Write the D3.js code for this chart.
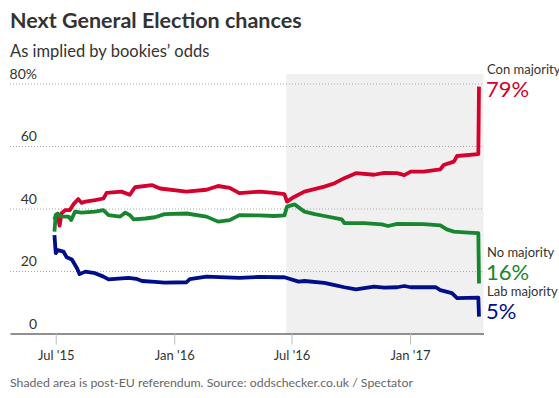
<!DOCTYPE html>
<html>
<head>
<meta charset="utf-8">
<script src="https://cdn.jsdelivr.net/npm/d3@7"></script>
<style>
  body { margin: 0; background: #fff; }
  svg { display: block; font-family: Lato, "Open Sans", sans-serif; }
</style>
</head>
<body>
<div class="graph"></div>
<script>
// readings taken off the chart, one array per series
const conDates = ['2015-06-29', '2015-07-01', '2015-07-04', '2015-07-07', '2015-07-10', '2015-07-16', '2015-07-23', '2015-07-29',
  '2015-08-05', '2015-08-10', '2015-08-16', '2015-08-31', '2015-09-13', '2015-09-18', '2015-10-11', '2015-10-24',
  '2015-11-01', '2015-11-27', '2015-12-10', '2016-01-20', '2016-02-20', '2016-03-09', '2016-03-27', '2016-04-11',
  '2016-05-12', '2016-06-04', '2016-06-20', '2016-06-24', '2016-07-05', '2016-07-21', '2016-08-21', '2016-09-06',
  '2016-09-21', '2016-10-09', '2016-11-06', '2016-11-22', '2016-12-12', '2016-12-23', '2017-01-02', '2017-01-22',
  '2017-02-17', '2017-02-22', '2017-03-10', '2017-03-15', '2017-04-17', '2017-04-18'];
const conValues = [36.5, 37.5, 38, 34.5, 38.5, 39.5, 39.5, 41.5,
  43, 41.8, 42.2, 42.7, 43.2, 45, 45.4, 44.4,
  46.8, 47.5, 46.4, 45.4, 46, 47.2, 46.6, 44.9,
  45.4, 45, 44.6, 42.2, 43.7, 45.4, 47, 48.1,
  49.7, 51.3, 50.8, 51.4, 51.3, 50.7, 51.8, 51.8,
  52.5, 53.9, 55, 56.8, 57.4, 79];

const noDates = ['2015-06-29', '2015-07-01', '2015-07-04', '2015-07-08', '2015-07-16', '2015-07-21', '2015-07-25', '2015-07-31',
  '2015-08-10', '2015-08-31', '2015-09-13', '2015-09-21', '2015-10-09', '2015-10-17', '2015-10-24', '2015-10-30',
  '2015-11-17', '2015-12-02', '2015-12-17', '2016-01-20', '2016-02-20', '2016-03-09', '2016-03-27', '2016-04-11',
  '2016-05-12', '2016-06-04', '2016-06-20', '2016-06-24', '2016-07-06', '2016-07-21', '2016-08-06', '2016-08-21',
  '2016-09-17', '2016-09-21', '2016-10-22', '2016-11-18', '2016-11-28', '2016-12-12', '2017-01-22', '2017-02-17',
  '2017-02-27', '2017-03-10', '2017-04-01', '2017-04-17', '2017-04-18'];
const noValues = [32.6, 38, 38.4, 37.5, 37.4, 37.4, 36.3, 39,
  38.7, 39, 39.5, 37.9, 37.4, 38.7, 37.9, 36.5,
  36.8, 37.2, 38.2, 38.4, 37.4, 35.8, 36.3, 37.9,
  37.8, 37.6, 37.8, 40.6, 41.3, 39, 38.2, 37.6,
  36.5, 35.3, 35.3, 34.9, 34.4, 35.1, 35, 34.6,
  33.3, 32.6, 32.3, 32.1, 16];

const labDates = ['2015-06-29', '2015-07-01', '2015-07-04', '2015-07-13', '2015-07-18', '2015-07-26', '2015-08-03', '2015-08-07',
  '2015-08-16', '2015-08-31', '2015-09-13', '2015-09-21', '2015-10-22', '2015-11-03', '2015-11-12', '2015-12-02',
  '2015-12-17', '2016-01-20', '2016-01-25', '2016-02-20', '2016-04-11', '2016-05-12', '2016-06-12', '2016-06-20',
  '2016-07-12', '2016-07-21', '2016-08-21', '2016-09-06', '2016-09-21', '2016-10-09', '2016-11-06', '2016-11-22',
  '2016-12-12', '2016-12-23', '2017-01-02', '2017-02-10', '2017-02-17', '2017-03-07', '2017-03-15', '2017-04-17',
  '2017-04-18'];
const labValues = [31.5, 25.7, 26.7, 26.2, 24.4, 23.7, 20.9, 19,
  19.8, 19.3, 18.2, 17.3, 17.8, 17.5, 16.8, 16.5,
  16.3, 16.4, 17.4, 18.2, 17.8, 18.1, 18, 18,
  16.6, 16.8, 16.2, 15.5, 14.8, 14.1, 15, 14.7,
  14.8, 15.2, 14.8, 14.8, 13.9, 12.9, 11.3, 11.5,
  5.4];

const seriesNames = ['Con majority', 'No majority', 'Lab majority'];
const latestLabels = ['79%', '16%', '5%'];
const yTicks = [0, 20, 40, 60, 80];
const xTicks = ['2015-07-01', '2016-01-01', '2016-07-01', '2017-01-01'];
const referendumDate = '2016-06-23';

const colors = ['#d4002d', '#17862f', '#000e8a'];
const parse = d3.timeParse('%Y-%m-%d');

const w = 559;
const h = 398;

const xScale = d3.scaleTime()
  .domain([parse('2015-04-21'), parse('2017-04-25')])
  .range([10, 483.5]);
const yScale = d3.scaleLinear()
  .domain([0, 80])
  .range([333.5, 83.5]);

const svg = d3.select('.graph')
  .append('svg')
  .attr('width', w)
  .attr('height', h);

// post-referendum shading
svg.append('rect')
  .attr('x', xScale(parse(referendumDate)))
  .attr('y', 74)
  .attr('width', xScale.range()[1] - xScale(parse(referendumDate)))
  .attr('height', yScale(0) - 74)
  .attr('fill', '#f0f0f0');

svg.append('text')
  .attr('x', 10)
  .attr('y', 28)
  .attr('font-size', 21.5)
  .attr('font-weight', 'bold')
  .attr('fill', '#333')
  .text('Next General Election chances');

svg.append('text')
  .attr('x', 10)
  .attr('y', 57)
  .attr('font-size', 16.5)
  .attr('fill', '#333')
  .text('As implied by bookies\u2019 odds');

// y grid + labels
const yAxis = svg.append('g')
  .attr('class', 'y-axis')
  .call(d3.axisRight(yScale)
    .tickValues(yTicks)
    .tickSize(xScale.range()[1] - 10)
    .tickFormat((d) => d === 80 ? '80%' : d))
  .attr('transform', 'translate(10, 0)');
yAxis.select('.domain').remove();
yAxis.selectAll('.tick line')
  .attr('stroke', '#aaa')
  .attr('stroke-dasharray', '1,2')
  .filter((d) => d === 0).remove();
yAxis.selectAll('.tick text')
  .attr('x', 27)
  .attr('dy', -5.5)
  .attr('text-anchor', 'end')
  .attr('font-size', 14)
  .attr('font-family', 'Lato, sans-serif')
  .attr('fill', '#333');

// x axis
const xAxis = svg.append('g')
  .attr('class', 'x-axis')
  .attr('transform', `translate(0, ${yScale(0)})`)
  .call(d3.axisBottom(xScale)
    .tickValues(xTicks.map(parse))
    .tickSize(11)
    .tickSizeOuter(0)
    .tickPadding(6)
    .tickFormat(d3.timeFormat('%b \'%y')));
xAxis.select('.domain')
  .attr('stroke', '#222');
xAxis.selectAll('.tick line')
  .attr('stroke', '#bbb');
xAxis.selectAll('.tick text')
  .attr('font-size', 13)
  .attr('font-family', 'Lato, sans-serif')
  .attr('fill', '#333');

// lines
const line = d3.line()
  .x((d) => xScale(d.date))
  .y((d) => yScale(d.value));

const series = [
  conDates.map((d, i) => ({ date: parse(d), value: conValues[i] })),
  noDates.map((d, i) => ({ date: parse(d), value: noValues[i] })),
  labDates.map((d, i) => ({ date: parse(d), value: labValues[i] }))
];

svg.selectAll('.series')
  .data(series)
  .enter()
  .append('path')
  .attr('class', 'series')
  .attr('d', line)
  .attr('fill', 'none')
  .attr('stroke', (d, i) => colors[i])
  .attr('stroke-width', 3.8)
  .attr('stroke-linejoin', 'round');

// end labels
const labelY = [[74, 97], [257, 280], [296, 319]];
seriesNames.forEach((name, i) => {
  svg.append('text')
    .attr('x', 487)
    .attr('y', labelY[i][0])
    .attr('font-size', 13)
    .attr('fill', '#333')
    .text(name);
  svg.append('text')
    .attr('x', 486)
    .attr('y', labelY[i][1])
    .attr('font-size', 22)
    .attr('fill', colors[i])
    .text(latestLabels[i]);
});

svg.append('text')
  .attr('x', 10)
  .attr('y', 387)
  .attr('font-size', 12.3)
  .attr('fill', '#666')
  .text('Shaded area is post-EU referendum. Source: oddschecker.co.uk / Spectator');
</script>
</body>
</html>
